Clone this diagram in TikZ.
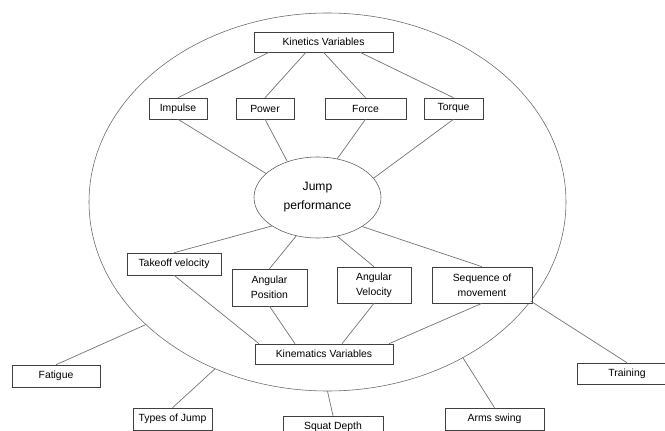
\documentclass[tikz,border=0pt]{standalone}
\usepackage{fontspec}
\setmainfont{Liberation Sans}
\usepackage{tikz}
\usetikzlibrary{shapes.geometric, positioning}
\def\pxu{0.025cm}
\tikzset{
  % Box styles
  varbox/.style={rectangle, draw=black!75, fill=white, inner sep=0pt, text centered, align=center, font=\fontsize{7.4}{10.5}\selectfont, minimum height=21*\pxu},
  hub/.style={ellipse, draw=black!65, inner sep=0pt, align=center, font=\fontsize{8.6}{13.5}\selectfont},
  link/.style={draw=black!55, line width=0.5pt},
}
\begin{document}
\begin{tikzpicture}[x=\pxu, y=-\pxu]
    \useasboundingbox (0,0) rectangle (665,431);
    \clip (0,0) rectangle (665,431);
    % Outer ellipse
    \node[draw=black!60, ellipse, minimum width=477*\pxu, minimum height=378*\pxu, inner sep=0pt] (outer) at (327.5,202) {};
    % Kinetics side
    \node[varbox, minimum width=139*\pxu, minimum height=20*\pxu] (kin) at (323.5,42) {Kinetics Variables};
    \node[varbox, minimum width=58*\pxu] (imp) at (178,108.5) {Impulse};
    \node[varbox, minimum width=58*\pxu] (pow) at (265,108.5) {Power};
    \node[varbox, minimum width=81*\pxu] (frc) at (365.5,108.5) {Force};
    \node[varbox, minimum width=59*\pxu] (trq) at (453.5,108.5) {Torque};
    % Centre
    \node[hub, minimum width=127*\pxu, minimum height=81*\pxu] (jump) at (317.5,197.5) {Jump\\performance};
    % Kinematics side
    \node[varbox, minimum width=94*\pxu, minimum height=22*\pxu] (tko) at (174,264) {Takeoff velocity};
    \node[varbox, minimum width=75*\pxu, minimum height=37*\pxu] (apos) at (269.5,287.5) {Angular\\Position};
    \node[varbox, minimum width=74*\pxu, minimum height=36*\pxu] (avel) at (374,285) {Angular\\Velocity};
    \node[varbox, minimum width=100*\pxu, minimum height=36*\pxu] (seq) at (482,285) {Sequence of\\movement};
    \node[varbox, minimum width=138*\pxu, minimum height=20*\pxu] (kmt) at (324,354) {Kinematics Variables};
    % Outside factors
    \node[varbox, minimum width=88*\pxu, minimum height=22*\pxu] (fat) at (56,376) {Fatigue};
    \node[varbox, minimum width=79*\pxu, minimum height=22*\pxu] (toj) at (172.5,419) {Types of Jump};
    \node[varbox, minimum width=100*\pxu, minimum height=22*\pxu] (sqd) at (333,427) {Squat Depth};
    \node[varbox, minimum width=99*\pxu, minimum height=22*\pxu] (arm) at (494.5,419) {Arms swing};
    \node[varbox, minimum width=100*\pxu, minimum height=21*\pxu] (trn) at (627,373.5) {Training};
    % Connectors
    \foreach \dx/\n in {-54.5/imp, -17.5/pow, 0/frc, 36.5/trq}
      \draw[link] ([xshift={\dx*\pxu}]kin.south) -- (\n.north);
    \foreach \n/\a in {imp/155, pow/130, frc/63, trq/19}
      \draw[link] (\n.south) -- (jump.\a);
    \foreach \n/\a in {tko/212, apos/241, avel/297, seq/327}
      \draw[link] (jump.\a) -- (\n.north);
    \foreach \n/\dx in {tko/-65, apos/-29, avel/18, seq/65}
      \draw[link] (\n.south) -- ([xshift={\dx*\pxu}]kmt.north);
    \foreach \n/\a in {fat/214, toj/236, sqd/270, arm/311, trn/334}
      \draw[link] (outer.\a) -- (\n.north);
\end{tikzpicture}
\end{document}
